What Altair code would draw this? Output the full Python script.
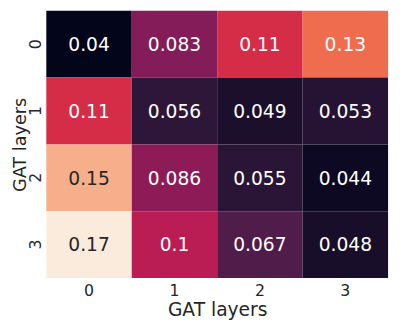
import altair as alt
import pandas as pd

x_cats = ["0", "1", "2", "3"]
y_cats = ["0", "1", "2", "3"]
values = [
    [0.04, 0.083, 0.11, 0.13],
    [0.11, 0.056, 0.049, 0.053],
    [0.15, 0.086, 0.055, 0.044],
    [0.17, 0.1, 0.067, 0.048],
]
x_title = "GAT layers"
y_title = "GAT layers"

# seaborn "rocket" colormap stops
rocket = ["#03051a", "#35193e", "#701f57", "#ad1759", "#e13342",
          "#f37651", "#f6b48f", "#faebdd"]

rows = []
for i, yc in enumerate(y_cats):
    for j, xc in enumerate(x_cats):
        rows.append({"x": xc, "y": yc, "v": values[i][j]})
df = pd.DataFrame(rows)

flat = [v for r in values for v in r]
vmin, vmax = min(flat), max(flat)
n = len(rocket) - 1
stops = [vmin + (vmax - vmin) * k / n for k in range(n + 1)]

W, H = 348, 272

base = alt.Chart(df).encode(
    x=alt.X("x:O", sort=x_cats, title=x_title,
            scale=alt.Scale(paddingInner=0, paddingOuter=0),
            axis=alt.Axis(labelAngle=0, labelPadding=5, labelBaseline="top",
                          titleBaseline="alphabetic", titleAlign="center",
                          titleX=W / 2, titleY=38)),
    y=alt.Y("y:O", sort=y_cats, title=y_title,
            scale=alt.Scale(paddingInner=0, paddingOuter=0),
            axis=alt.Axis(labelAngle=270, labelAlign="center", labelBaseline="middle",
                          labelPadding=11, titleAngle=270, titleBaseline="alphabetic",
                          titleAlign="center", titleX=-21, titleY=H / 2,
                          titleFontSize=18)),
)

rect = base.mark_rect().encode(
    color=alt.Color("v:Q", legend=None,
                    scale=alt.Scale(domain=stops, range=rocket, interpolate="rgb")),
)

text = base.mark_text(font="DejaVu Sans", fontSize=19, baseline="middle", dy=1).encode(
    text=alt.Text("v:Q", format=".2~g"),
    color=alt.condition(alt.datum.v > 0.14, alt.value("#262626"), alt.value("#ffffff")),
)

chart = (rect + text).properties(
    width=W, height=H,
    autosize=alt.AutoSizeParams(type="none"),
    padding={"left": 39, "top": 0, "right": 4, "bottom": 44},
    background="white",
).configure_view(stroke="transparent").configure_axis(
    domain=False, ticks=False, grid=False,
    labelFont="DejaVu Sans", labelFontSize=16, labelColor="#262626",
    titleFont="DejaVu Sans", titleFontSize=19, titleColor="#262626",
    titleFontWeight="normal",
)

chart.save("out.html", embed_options={"renderer": "svg", "actions": False})
